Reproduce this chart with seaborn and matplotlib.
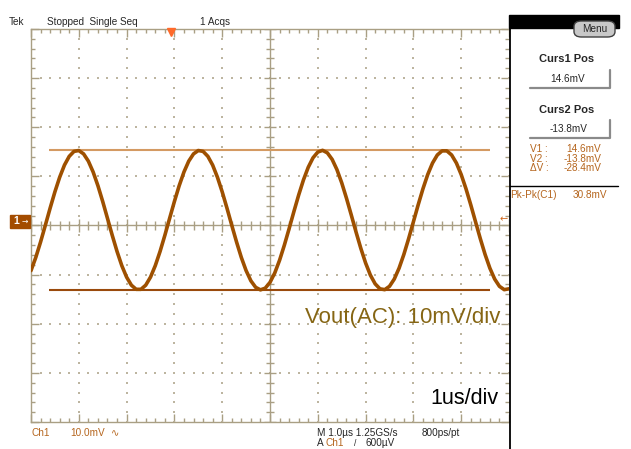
import numpy as np
import pandas as pd
import matplotlib
matplotlib.use("Agg")
import matplotlib.pyplot as plt
import seaborn as sns
from matplotlib.patches import Rectangle, FancyBboxPatch
from matplotlib.lines import Line2D
from matplotlib.collections import LineCollection

# ---------------- data ----------------
time_us = [0.0, 0.1, 0.2, 0.3, 0.4, 0.5, 0.6, 0.7, 0.8, 0.9,
           1.0, 1.1, 1.2, 1.3, 1.4, 1.5, 1.6, 1.7, 1.8, 1.9,
           2.0, 2.1, 2.2, 2.3, 2.4, 2.5, 2.6, 2.7, 2.8, 2.9,
           3.0, 3.1, 3.2, 3.3, 3.4, 3.5, 3.6, 3.7, 3.8, 3.9,
           4.0, 4.1, 4.2, 4.3, 4.4, 4.5, 4.6, 4.7, 4.8, 4.9,
           5.0, 5.1, 5.2, 5.3, 5.4, 5.5, 5.6, 5.7, 5.8, 5.9,
           6.0, 6.1, 6.2, 6.3, 6.4, 6.5, 6.6, 6.7, 6.8, 6.9,
           7.0, 7.1, 7.2, 7.3, 7.4, 7.5, 7.6, 7.7, 7.8, 7.9,
           8.0, 8.1, 8.2, 8.3, 8.4, 8.5, 8.6, 8.7, 8.8, 8.9,
           9.0, 9.1, 9.2, 9.3, 9.4, 9.5, 9.6, 9.7, 9.8, 9.9,
           10.0]
vout_mv = [-9.88, -7.20, -4.06, -0.65, 2.83, 6.15, 9.13, 11.60, 13.38, 14.39,
           14.56, 13.88, 12.40, 10.19, 7.40, 4.19, 0.75, -2.71, -5.98, -8.88,
           -11.21, -12.85, -13.69, -13.69, -12.85, -11.21, -8.87, -5.98, -2.71, 0.75,
           4.19, 7.40, 10.19, 12.40, 13.88, 14.56, 14.39, 13.38, 11.60, 9.13,
           6.15, 2.83, -0.65, -4.05, -7.20, -9.88, -11.96, -13.29, -13.80, -13.46,
           -12.28, -10.35, -7.78, -4.71, -1.34, 2.14, 5.51, 8.58, 11.15, 13.08,
           14.25, 14.60, 14.09, 12.76, 10.68, 8.00, 4.85, 1.45, -2.03, -5.35,
           -8.33, -10.80, -12.58, -13.59, -13.76, -13.08, -11.60, -9.39, -6.60, -3.39,
           0.05, 3.51, 6.78, 9.68, 12.01, 13.65, 14.49, 14.49, 13.65, 12.01,
           9.67, 6.78, 3.51, 0.05, -3.39, -6.60, -9.39, -11.60, -13.08, -13.76,
           -13.59]
cursor_mv = [14.6, -13.8]
cursor_labels = ["14.6mV", "-13.8mV"]
delta_label = "-28.4mV"
pkpk_label = "30.8mV"
volts_per_div_mv = 10.0
trigger_level_mv = 0.6

# ---------------- style ----------------
sns.set_theme(style="white")
plt.rcParams["font.family"] = ["Liberation Sans", "DejaVu Sans"]

W, H = 631, 449
TRACE = "#9e5000"
CUR1 = "#d49a62"
CUR2 = "#9a4a0c"
GRAT = "#a99f84"
DOT = "#bdb5a0"
READ = "#b5651d"
GND_OFF = 0.07  # ground marker offset above centre graticule, in divisions


def fx(px):
    return px / W


def fy(py):
    return 1 - py / H


fig = plt.figure(figsize=(W / 100, H / 100), dpi=100)
fig.patch.set_facecolor("white")
ax = fig.add_axes([fx(31), fy(422), (509 - 31) / W, (422 - 29) / H])
ax.set_facecolor("white")

df = pd.DataFrame({"t": time_us, "v": vout_mv})
df["div"] = df["v"] / volts_per_div_mv + GND_OFF

# graticule dots
dx, dy = [], []
minor = [round(i * 0.2, 1) for i in range(51)]
minor_y = [round(-4 + i * 0.2, 1) for i in range(41)]
for gx in [1, 2, 3, 4, 6, 7, 8, 9]:
    for yy in minor_y:
        dx.append(gx); dy.append(yy)
for gy in [-3, -2, -1, 1, 2, 3]:
    for xx in minor:
        dx.append(xx); dy.append(gy)
ax.scatter(dx, dy, s=1.6, marker="s", color=DOT, linewidths=0, zorder=1)

# centre cross with ticks
ax.axhline(0, color=GRAT, lw=1, zorder=1)
ax.axvline(5, color=GRAT, lw=1, zorder=1)
segs = []
for xx in minor:
    h = 0.13 if abs(xx - round(xx)) < 1e-6 else 0.09
    segs.append([(xx, -h), (xx, h)])
for yy in minor_y:
    w = 0.13 if abs(yy - round(yy)) < 1e-6 else 0.09
    segs.append([(5 - w, yy), (5 + w, yy)])
ax.add_collection(LineCollection(segs, colors=GRAT, linewidths=1, zorder=1))

# trace
sns.lineplot(data=df, x="t", y="div", ax=ax, color=TRACE, lw=2.6, zorder=4)

# cursors
for val, col in zip(cursor_mv, [CUR1, CUR2]):
    ax.hlines(val / volts_per_div_mv + GND_OFF, 0.38, 9.6, color=col, lw=1.5, zorder=3)

ax.set_xlim(0, 10)
ax.set_ylim(-4, 4)
ax.set_xlabel("")
ax.set_ylabel("")
ax.set_xticks(range(11))
ax.set_yticks(range(-4, 5))
ax.set_xticks(minor, minor=True)
ax.set_yticks(minor_y, minor=True)
ax.tick_params(which="major", direction="in", length=6, width=1, color=GRAT,
               top=True, bottom=True, left=True, right=True,
               labelbottom=False, labelleft=False)
ax.tick_params(which="minor", direction="in", length=3, width=1, color=GRAT,
               top=True, bottom=True, left=True, right=True)
for s in ["left", "top", "bottom"]:
    ax.spines[s].set_color(GRAT)
    ax.spines[s].set_linewidth(1)
ax.spines["right"].set_visible(False)

# trigger level arrow (right) and trigger position (top)
ax.text(9.98, trigger_level_mv / volts_per_div_mv + GND_OFF, "←", color="#d2691e",
        ha="right", va="center", fontsize=7, zorder=5,
        family=["DejaVu Sans"])
ax.plot([2.93], [3.93], marker="v", color="#ff6a2a", ms=6, clip_on=False, zorder=6)

# ground marker "1->"
fig.add_artist(Rectangle((fx(10), fy(228)), 20 / W, 13 / H, transform=fig.transFigure,
                         color="#a34c00", zorder=5))
fig.text(fx(16), fy(221.5), "1", color="white", fontsize=7.5, fontweight="bold",
         ha="center", va="center", zorder=6)
fig.text(fx(25), fy(221.5), "→", color="white", fontsize=5.5, ha="center", va="center",
         zorder=6, family=["DejaVu Sans"])

# annotations
fig.text(fx(500), fy(317), "Vout(AC): 10mV/div", color="#866614", fontsize=16,
         ha="right", va="center")
fig.text(fx(498), fy(399), "1us/div", color="black", fontsize=15.5,
         ha="right", va="center")

# top status
small = 7.2
fig.text(fx(9), fy(22), "Tek", fontsize=small, ha="left", va="center")
fig.text(fx(47), fy(22), "Stopped  Single Seq", fontsize=small, ha="left", va="center")
fig.text(fx(200), fy(22), "1 Acqs", fontsize=small, ha="left", va="center")

# bottom status
fig.text(fx(31), fy(433), "Ch1", fontsize=small, color=READ, ha="left", va="center")
fig.text(fx(70), fy(433), "10.0mV", fontsize=small, color=READ, ha="left", va="center")
fig.text(fx(111), fy(433), "∿", fontsize=small, color=READ, ha="left", va="center",
         family=["DejaVu Sans"])
fig.text(fx(317), fy(432.5), "M 1.0µs 1.25GS/s", fontsize=small, ha="left", va="center")
fig.text(fx(422), fy(432.5), "800ps/pt", fontsize=small, ha="left", va="center")
fig.text(fx(317), fy(443), "A", fontsize=small, ha="left", va="center")
fig.text(fx(326), fy(443), "Ch1", fontsize=small, color=READ, ha="left", va="center")
fig.text(fx(354), fy(443), "/", fontsize=small - 1, ha="left", va="center")
fig.text(fx(366), fy(443), "600µV", fontsize=small, ha="left", va="center")

# right panel
fig.add_artist(Line2D([fx(509.5)] * 2, [fy(28), fy(449)], color="black", lw=1.3,
                      transform=fig.transFigure))
fig.add_artist(Rectangle((fx(509), fy(28)), (619 - 509) / W, 13 / H,
                         transform=fig.transFigure, color="black"))
fig.add_artist(FancyBboxPatch((fx(574), fy(37)), (615 - 574) / W, 16 / H,
                              boxstyle="round,pad=0,rounding_size=0.012",
                              transform=fig.transFigure, fc="#c8c8c8", ec="#404040", lw=1))
fig.text(fx(594.5), fy(29.5), "Menu", fontsize=small, ha="center", va="center")

for title, label, ty, by in [("Curs1 Pos", cursor_labels[0], 59.5, 88),
                             ("Curs2 Pos", cursor_labels[1], 110, 138)]:
    fig.text(fx(567), fy(ty), title, fontsize=8, fontweight="bold", ha="center", va="center")
    fig.text(fx(568), fy(by - 8.5), label, fontsize=small, ha="center", va="center")
    fig.add_artist(Line2D([fx(530), fx(610), fx(610)], [fy(by), fy(by), fy(by - 18)],
                          color="#8a8a8a", lw=1.6, transform=fig.transFigure))

rows = [("V1 :", cursor_labels[0], 149), ("V2 :", cursor_labels[1], 158.5),
        ("ΔV :", delta_label, 168)]
for lab, val, yy in rows:
    fig.text(fx(530), fy(yy), lab, fontsize=small, color=READ, ha="left", va="center")
    fig.text(fx(601), fy(yy), val, fontsize=small, color=READ, ha="right", va="center")
fig.add_artist(Line2D([fx(510), fx(618)], [fy(186), fy(186)], color="black", lw=1,
                      transform=fig.transFigure))
fig.text(fx(510), fy(195), "Pk-Pk(C1)", fontsize=small, color=READ, ha="left", va="center")
fig.text(fx(607), fy(195), pkpk_label, fontsize=small, color=READ, ha="right", va="center")

fig.savefig("out.png", dpi=100)
